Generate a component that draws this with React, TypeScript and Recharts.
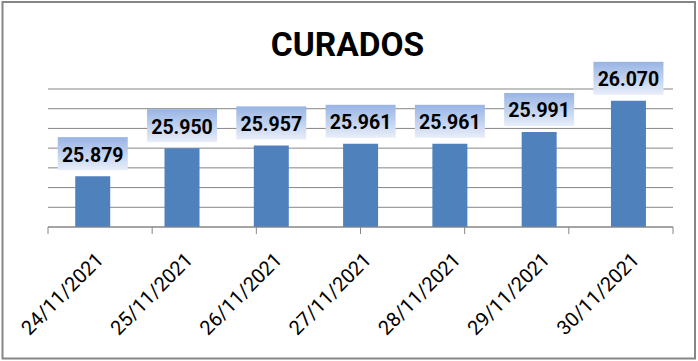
import React from 'react';
import { BarChart, Bar, XAxis, YAxis, CartesianGrid, LabelList } from 'recharts';

const categories = ['24/11/2021', '25/11/2021', '26/11/2021', '27/11/2021', '28/11/2021', '29/11/2021', '30/11/2021'];
const curados = [25879, 25950, 25957, 25961, 25961, 25991, 26070];
const yTicks = [25750, 25800, 25850, 25900, 25950, 26000, 26050, 26100];
const boundaryTicks = [0, 1, 2, 3, 4, 5, 6, 7];
const title = 'CURADOS';

const data = categories.map((date, i) => ({ date, value: curados[i] }));

const fmt = (v: number) => {
  const s = String(Math.round(v));
  return s.replace(/\B(?=(\d{3})+(?!\d))/g, '.');
};

const FONT = 'Roboto, "Liberation Sans", sans-serif';

const ValueLabel = (props: any) => {
  const { x, y, width, value } = props;
  const cx = Number(x) + Number(width) / 2;
  const bottom = Number(y) - 6;
  return (
    <g>
      <rect x={cx - 35} y={bottom - 33} width={70} height={33} fill="url(#lblGrad)" />
      <text
        x={cx}
        y={bottom - 8.5}
        textAnchor="middle"
        fontFamily={FONT}
        fontWeight="bold"
        fontSize={19.5}
        fill="#000"
      >
        {fmt(Number(value))}
      </text>
    </g>
  );
};

const DateTick = (props: any) => {
  const { x, y, payload } = props;
  return (
    <g transform={`translate(${Number(x) + 12},${Number(y) + 33})`}>
      <text
        x={0}
        y={0}
        textAnchor="end"
        transform="rotate(-45)"
        fontFamily={FONT}
        fontSize={20}
        fill="#000"
      >
        {payload.value}
      </text>
    </g>
  );
};

const EmptyTick = () => <g />;

const scaleOf = (axis: any, v: number) => {
  const s = axis && axis.scale;
  if (typeof s === 'function') return s(v);
  if (s && typeof s.map === 'function') return s.map(v);
  if (s && typeof s.apply === 'function') return s.apply(v);
  return undefined;
};

export default function App() {
  return (
    <div style={{ position: 'absolute', left: 0, top: 0, width: 698, height: 361, background: '#fff' }}>
      <BarChart
        width={698}
        height={361}
        data={data}
        margin={{ top: 89, right: 25, bottom: 0, left: 48 }}
        barCategoryGap="30.5%"
      >
        <defs>
          <linearGradient id="lblGrad" x1="0" y1="0" x2="0" y2="1">
            <stop offset="0%" stopColor="#98b4e4" />
            <stop offset="100%" stopColor="#e8eef9" />
          </linearGradient>
        </defs>
        <CartesianGrid
          vertical={false}
          stroke="#868686"
          strokeWidth={1}
          xAxisId="b"
          horizontalCoordinatesGenerator={(p: any) =>
            yTicks.map((t) => scaleOf(p.yAxis, t)).filter((v) => typeof v === 'number')
          }
        />
        <XAxis
          xAxisId="b"
          dataKey="date"
          interval={0}
          axisLine={false}
          tickLine={false}
          tickSize={0}
          tickMargin={0}
          height={133}
          tick={<DateTick />}
        />
        <XAxis
          xAxisId="a"
          type="number"
          domain={[0, 7]}
          ticks={boundaryTicks}
          tick={<EmptyTick />}
          tickSize={7}
          height={1}
          axisLine={{ stroke: '#868686' }}
          tickLine={{ stroke: '#868686' }}
          allowDataOverflow
        />
        <YAxis
          width={0}
          domain={[25750, 26100]}
          ticks={yTicks}
          tick={<EmptyTick />}
          axisLine={false}
          tickLine={false}
          allowDataOverflow
        />
        <Bar dataKey="value" xAxisId="b" fill="#4f81bd" isAnimationActive={false}>
          <LabelList dataKey="value" content={<ValueLabel />} />
        </Bar>
      </BarChart>
      <svg
        width={698}
        height={361}
        style={{ position: 'absolute', left: 0, top: 0, pointerEvents: 'none' }}
      >
        <rect x={2.5} y={2} width={692.5} height={356.5} fill="none" stroke="#868686" strokeWidth={2} />
        <text
          x={347.5}
          y={55.5}
          textAnchor="middle"
          fontFamily={FONT}
          fontWeight="bold"
          fontSize={33.5}
          fill="#000"
        >
          {title}
        </text>
      </svg>
    </div>
  );
}
